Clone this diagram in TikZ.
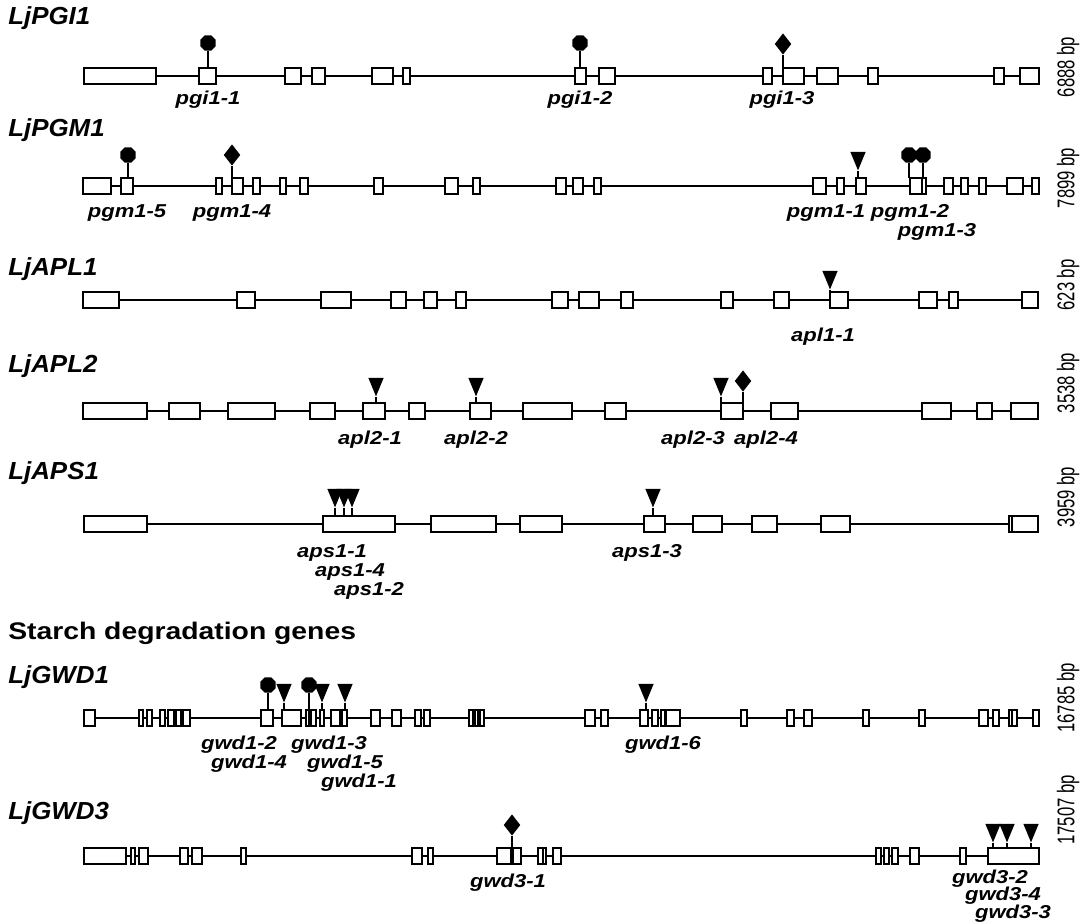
\documentclass[tikz,border=0pt]{standalone}
\usepackage{fontspec}
\setmainfont{Liberation Sans}
\newfontfamily\widefont[FakeStretch=1.18]{Liberation Sans}
\newfontfamily\genefont[FakeStretch=1.05]{Liberation Sans}
\usetikzlibrary{shapes.geometric}

\tikzset{
  exon/.style={draw, fill=white, line width=2.1pt},
  intron/.style={line width=2pt},
  pin/.style={line width=1.8pt},
  stopmark/.style={regular polygon, regular polygon sides=8, fill, inner sep=0pt, minimum size=12.5pt},
  insmark/.style={isosceles triangle, isosceles triangle apex angle=45, shape border rotate=270,
    fill, inner sep=0pt, minimum size=11.5pt},
  snpmark/.style={diamond, fill, inner sep=0pt, minimum width=12.5pt, minimum height=16pt},
  genename/.style={anchor=west, inner sep=0pt, font=\genefont\bfseries\itshape\fontsize{18.5}{20}\selectfont},
  allele/.style={inner sep=0pt, font=\widefont\bfseries\itshape\fontsize{14}{16}\selectfont},
  bplabel/.style={rotate=90, inner sep=0pt, font=\fontsize{12.5}{14}\selectfont},
}

% mutation marker: name, x, exon top, marker y, style
\newcommand\hit[5]{%
  \node[#5] (#1) at (#2,#4) {};
  \coordinate (#1-b) at (#2,#3);
  \draw[pin] (#1-b) -- (#1);
}

\begin{document}
\begin{tikzpicture}[x=0.75pt, y=-0.75pt]
\useasboundingbox (0,0) rectangle (1084,923);

% LjPGI1
\node[genename] (pgi) at (8,18) {LjPGI1};
\coordinate (pgi-s) at (84,76);
\coordinate (pgi-e) at (1039,76);
\draw[intron] (pgi-s) -- (pgi-e);
\foreach \a/\b in {84/156, 199/216, 285/301, 312/325, 372/393, 403/410, 575/586, 599/615,
    763/772, 783/804, 817/838, 868/878, 994/1004, 1020/1039}
  \draw[exon] (\a,68) rectangle (\b,84);
\hit{pgi1-1m}{208}{68}{43}{stopmark}
\hit{pgi1-2m}{580}{68}{43}{stopmark}
\hit{pgi1-3m}{783}{68}{44}{snpmark}
\node[allele] (pgi1-1) at (208,100) {pgi1-1};
\node[allele] (pgi1-2) at (580,100) {pgi1-2};
\node[allele] (pgi1-3) at (782,100) {pgi1-3};
\node[bplabel] (pgi-bp) at (1068,67) {\scalebox{1}[1.45]{6888 bp}};

% LjPGM1
\node[genename] (pgm) at (8,130) {LjPGM1};
\coordinate (pgm-s) at (83,186);
\coordinate (pgm-e) at (1039,186);
\draw[intron] (pgm-s) -- (pgm-e);
\foreach \a/\b in {83/111, 121/133, 216/222, 232/243, 253/260, 280/286, 300/308, 374/383,
    445/458, 473/480, 556/566, 573/583, 594/601, 813/826, 837/844, 856/866, 910/922, 922/926,
    944/953, 961/968, 979/986, 1007/1023, 1032/1039}
  \draw[exon] (\a,178) rectangle (\b,194);
\hit{pgm1-5m}{128}{178}{155}{stopmark}
\hit{pgm1-4m}{232}{178}{155}{snpmark}
\hit{pgm1-1m}{858}{178}{157}{insmark}
\hit{pgm1-2m}{909}{178}{155}{stopmark}
\hit{pgm1-3m}{923}{178}{155}{stopmark}
\node[allele] (pgm1-5) at (127,213) {pgm1-5};
\node[allele] (pgm1-4) at (232,213) {pgm1-4};
\node[allele] (pgm1-1) at (826,213) {pgm1-1};
\node[allele] (pgm1-2) at (910,213) {pgm1-2};
\node[allele] (pgm1-3) at (937,232) {pgm1-3};
\node[bplabel] (pgm-bp) at (1068,178) {\scalebox{1}[1.45]{7899 bp}};

% LjAPL1
\node[genename] (apla) at (8,269) {LjAPL1};
\coordinate (apla-s) at (83,300);
\coordinate (apla-e) at (1038,300);
\draw[intron] (apla-s) -- (apla-e);
\foreach \a/\b in {83/119, 237/255, 321/351, 391/406, 424/437, 456/466, 552/568, 579/599,
    621/633, 721/733, 774/789, 830/848, 919/937, 949/958, 1022/1038}
  \draw[exon] (\a,292) rectangle (\b,308);
\hit{apl1-1m}{830}{292}{276}{insmark}
\node[allele] (apl1-1) at (823,337) {apl1-1};
\node[bplabel] (apla-bp) at (1068,285) {\scalebox{1}[1.45]{623 bp}};

% LjAPL2
\node[genename] (aplb) at (8,366) {LjAPL2};
\coordinate (aplb-s) at (83,411);
\coordinate (aplb-e) at (1038,411);
\draw[intron] (aplb-s) -- (aplb-e);
\foreach \a/\b in {83/147, 169/200, 228/275, 310/335, 363/385, 409/425, 470/491, 523/572,
    605/626, 721/743, 771/798, 922/951, 977/992, 1011/1038}
  \draw[exon] (\a,403) rectangle (\b,419);
\hit{apl2-1m}{376}{403}{383}{insmark}
\hit{apl2-2m}{476}{403}{383}{insmark}
\hit{apl2-3m}{721}{403}{383}{insmark}
\hit{apl2-4m}{743}{403}{381}{snpmark}
\node[allele] (apl2-1) at (370,440) {apl2-1};
\node[allele] (apl2-2) at (476,440) {apl2-2};
\node[allele] (apl2-3) at (693,440) {apl2-3};
\node[allele] (apl2-4) at (766,440) {apl2-4};
\node[bplabel] (aplb-bp) at (1068,383) {\scalebox{1}[1.45]{3538 bp}};

% LjAPS1
\node[genename] (aps) at (8,473) {LjAPS1};
\coordinate (aps-s) at (84,524);
\coordinate (aps-e) at (1038,524);
\draw[intron] (aps-s) -- (aps-e);
\foreach \a/\b in {84/147, 323/395, 431/496, 520/562, 644/665, 693/722, 752/777, 821/850,
    1009/1038, 1009/1012}
  \draw[exon] (\a,516) rectangle (\b,532);
\hit{aps1-1m}{335}{516}{494}{insmark}
\hit{aps1-4m}{344}{516}{494}{insmark}
\hit{aps1-2m}{352}{516}{494}{insmark}
\hit{aps1-3m}{653}{516}{494}{insmark}
\node[allele] (aps1-1) at (332,553) {aps1-1};
\node[allele] (aps1-4) at (350,572) {aps1-4};
\node[allele] (aps1-2) at (369,591) {aps1-2};
\node[allele] (aps1-3) at (647,553) {aps1-3};
\node[bplabel] (aps-bp) at (1068,497) {\scalebox{1}[1.45]{3959 bp}};

\node[anchor=west, inner sep=0pt, font=\widefont\bfseries\fontsize{18}{20}\selectfont]
  (starch) at (8,633) {Starch degradation genes};

% LjGWD1
\node[genename] (gwda) at (8,677) {LjGWD1};
\coordinate (gwda-s) at (84,718);
\coordinate (gwda-e) at (1039,718);
\draw[intron] (gwda-s) -- (gwda-e);
\foreach \a/\b in {84/95, 139/143, 147/152, 160/165, 168/174, 176/181, 183/190, 261/273,
    282/301, 306/309, 311/316, 320/324, 331/340, 342/347, 371/380, 392/401, 415/421, 424/430,
    469/473, 475/478, 480/484, 585/595, 601/608, 640/648, 652/658, 661/665, 666/680, 741/747,
    787/794, 804/812, 863/869, 919/925, 979/988, 993/999, 1009/1012, 1012/1017, 1033/1039}
  \draw[exon] (\a,710) rectangle (\b,726);
\hit{gwd1-2m}{268}{710}{685}{stopmark}
\hit{gwd1-4m}{284}{710}{689}{insmark}
\hit{gwd1-3m}{309}{710}{685}{stopmark}
\hit{gwd1-5m}{322}{710}{689}{insmark}
\hit{gwd1-1m}{345}{710}{689}{insmark}
\hit{gwd1-6m}{646}{710}{689}{insmark}
\node[allele] (gwd1-2) at (239,745) {gwd1-2};
\node[allele] (gwd1-3) at (329,745) {gwd1-3};
\node[allele] (gwd1-4) at (249,764) {gwd1-4};
\node[allele] (gwd1-5) at (345,764) {gwd1-5};
\node[allele] (gwd1-1) at (359,783) {gwd1-1};
\node[allele] (gwd1-6) at (663,745) {gwd1-6};
\node[bplabel] (gwda-bp) at (1068,698) {\scalebox{1}[1.45]{16785 bp}};

% LjGWD3
\node[genename] (gwdc) at (8,813) {LjGWD3};
\coordinate (gwdc-s) at (84,856);
\coordinate (gwdc-e) at (1039,856);
\draw[intron] (gwdc-s) -- (gwdc-e);
\foreach \a/\b in {84/126, 131/135, 139/148, 180/188, 192/202, 241/246, 412/422, 428/433,
    497/511, 513/521, 538/543, 543/546, 553/561, 876/881, 884/889, 892/898, 910/919, 960/966,
    988/1039}
  \draw[exon] (\a,848) rectangle (\b,864);
\hit{gwd3-1m}{512}{848}{825}{snpmark}
\hit{gwd3-2m}{993}{848}{829}{insmark}
\hit{gwd3-4m}{1007}{848}{829}{insmark}
\hit{gwd3-3m}{1031}{848}{829}{insmark}
\node[allele] (gwd3-1) at (508,883) {gwd3-1};
\node[allele] (gwd3-2) at (990,879) {gwd3-2};
\node[allele] (gwd3-4) at (1003,896) {gwd3-4};
\node[allele] (gwd3-3) at (1013,914) {gwd3-3};
\node[bplabel] (gwdc-bp) at (1068,810) {\scalebox{1}[1.45]{17507 bp}};
\end{tikzpicture}
\end{document}
